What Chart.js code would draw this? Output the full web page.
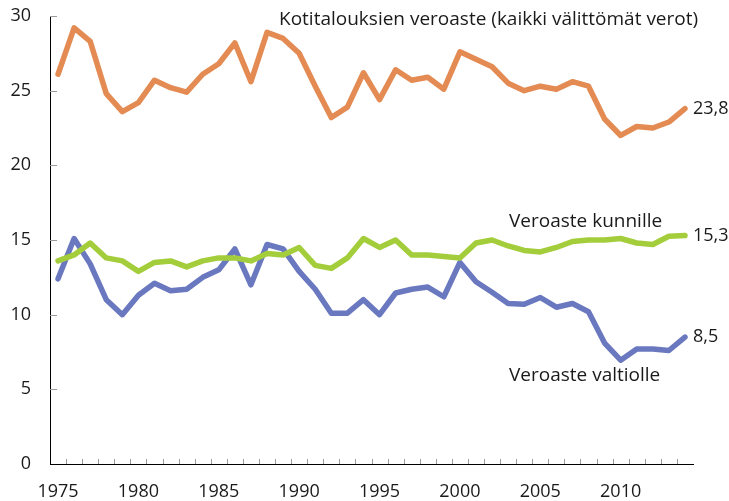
<!DOCTYPE html>
<html>
<head>
<meta charset="utf-8">
<script src="https://cdn.jsdelivr.net/npm/chart.js@4/dist/chart.umd.min.js"></script>
<style>
    body { margin: 0; background: #fff; }
    #wrap { width: 729px; height: 501px; }
</style>
</head>
<body>
<div id="wrap"><canvas id="chart" width="729" height="501"></canvas></div>
<script>
// vuodet 1975-2014
const years = [];
for (let y = 1975; y <= 2014; y++) years.push(y);

// kotitalouksien veroaste, kaikki välittömät verot (%)
const totalRate = [26.1, 29.2, 28.3, 24.8, 23.6, 24.2, 25.7, 25.2, 24.9, 26.1,
    26.8, 28.2, 25.6, 28.9, 28.5, 27.5, 25.3, 23.2, 23.9, 26.2,
    24.4, 26.4, 25.7, 25.9, 25.1, 27.6, 27.1, 26.6, 25.5, 25.0,
    25.3, 25.1, 25.6, 25.3, 23.1, 22.0, 22.6, 22.5, 22.9, 23.8];

// veroaste kunnille
const municipalRate = [13.6, 14.0, 14.8, 13.8, 13.6, 12.9, 13.5, 13.6, 13.2, 13.6,
    13.8, 13.8, 13.6, 14.1, 14.0, 14.5, 13.3, 13.1, 13.8, 15.1,
    14.5, 15.0, 14.0, 14.0, 13.9, 13.8, 14.8, 15.0, 14.6, 14.3,
    14.2, 14.5, 14.9, 15.0, 15.0, 15.1, 14.8, 14.7, 15.25, 15.3];

// veroaste valtiolle
const stateRate = [12.4, 15.1, 13.4, 11.0, 10.0, 11.3, 12.1, 11.6, 11.7, 12.5,
    13.0, 14.4, 12.0, 14.7, 14.4, 12.9, 11.7, 10.1, 10.1, 11.0,
    10.0, 11.45, 11.7, 11.85, 11.2, 13.5, 12.2, 11.5, 10.75, 10.7,
    11.15, 10.5, 10.75, 10.2, 8.1, 6.95, 7.7, 7.7, 7.6, 8.5];

const yTicks = [0, 5, 10, 15, 20, 25, 30];

const FONT = '"Open Sans", sans-serif';
const ORANGE = '#e38b53';
const BLUE = '#6a78bf';
const GREEN = '#a3cd3a';

// sisäänpäin osoittavat tikit + tekstit
const decorations = {
    id: 'decorations',
    afterDraw(chart) {
        const ctx = chart.ctx;
        const x = chart.scales.x;
        const y = chart.scales.y;
        const area = chart.chartArea;

        ctx.save();
        ctx.strokeStyle = '#9a9a9a';
        ctx.lineWidth = 1;
        ctx.beginPath();
        for (let i = 0; i < years.length - 1; i++) {
            const px = Math.round((x.getPixelForValue(i) + x.getPixelForValue(i + 1)) / 2) + 0.5;
            ctx.moveTo(px, area.bottom);
            ctx.lineTo(px, area.bottom - 5);
        }
        yTicks.forEach((v) => {
            if (v === 0) return;
            const py = Math.round(y.getPixelForValue(v)) + 0.5;
            ctx.moveTo(area.left, py);
            ctx.lineTo(area.left + 7, py);
        });
        ctx.stroke();

        ctx.fillStyle = '#1a1a1a';
        ctx.font = '18px ' + FONT;
        ctx.textBaseline = 'middle';
        ctx.textAlign = 'left';

        // loppuarvot viimeisen pisteen viereen
        const last = years.length - 1;
        const lx = x.getPixelForValue(last) + 8;
        ctx.fillText('23,8', lx, y.getPixelForValue(totalRate[last]));
        ctx.fillText('15,3', lx, y.getPixelForValue(municipalRate[last]));
        ctx.fillText('8,5', lx, y.getPixelForValue(stateRate[last]));

        ctx.font = '19px ' + FONT;
        ctx.fillText('Kotitalouksien veroaste (kaikki välittömät verot)', 279, 20);
        ctx.fillText('Veroaste kunnille', 509, 222);
        ctx.fillText('Veroaste valtiolle', 509, 376);
        ctx.restore();
    }
};

function makeSet(label, data, color) {
    return {
        label: label,
        data: data,
        borderColor: color,
        backgroundColor: color,
        borderWidth: 5.5,
        pointRadius: 0,
        tension: 0,
        borderCapStyle: 'round',
        borderJoinStyle: 'round',
        fill: false
    };
}

const chart = new Chart(document.getElementById('chart'), {
    type: 'line',
    data: {
        labels: years,
        datasets: [
            makeSet('Veroaste kunnille', municipalRate, GREEN),
            makeSet('Veroaste valtiolle', stateRate, BLUE),
            makeSet('Kotitalouksien veroaste', totalRate, ORANGE)
        ]
    },
    options: {
        responsive: false,
        animation: false,
        layout: { padding: { top: 16, right: 36, left: 0, bottom: 0 } },
        plugins: {
            legend: { display: false },
            tooltip: { enabled: false }
        },
        scales: {
            x: {
                type: 'category',
                offset: true,
                afterFit: (scale) => {
                    scale.height = 37;
                    scale.paddingLeft = 0;
                    scale.paddingRight = 0;
                },
                grid: { display: true, drawOnChartArea: false, drawTicks: false },
                border: { display: true, color: '#000', width: 1 },
                ticks: {
                    autoSkip: false,
                    maxRotation: 0,
                    padding: 17,
                    color: '#1a1a1a',
                    font: { family: FONT, size: 18 },
                    callback: function (val, idx) {
                        return years[idx] % 5 === 0 ? String(years[idx]) : '';
                    }
                }
            },
            y: {
                min: 0,
                max: 30,
                afterFit: (scale) => {
                    scale.width = 50;
                    scale.paddingTop = 0;
                    scale.paddingBottom = 0;
                },
                afterBuildTicks: (scale) => { scale.ticks = yTicks.map((v) => ({ value: v })); },
                grid: { display: true, drawOnChartArea: false, drawTicks: false },
                border: { display: true, color: '#000', width: 1 },
                ticks: {
                    padding: 19,
                    color: '#1a1a1a',
                    font: { family: FONT, size: 18 }
                }
            }
        }
    },
    plugins: [decorations]
});
</script>
</body>
</html>
